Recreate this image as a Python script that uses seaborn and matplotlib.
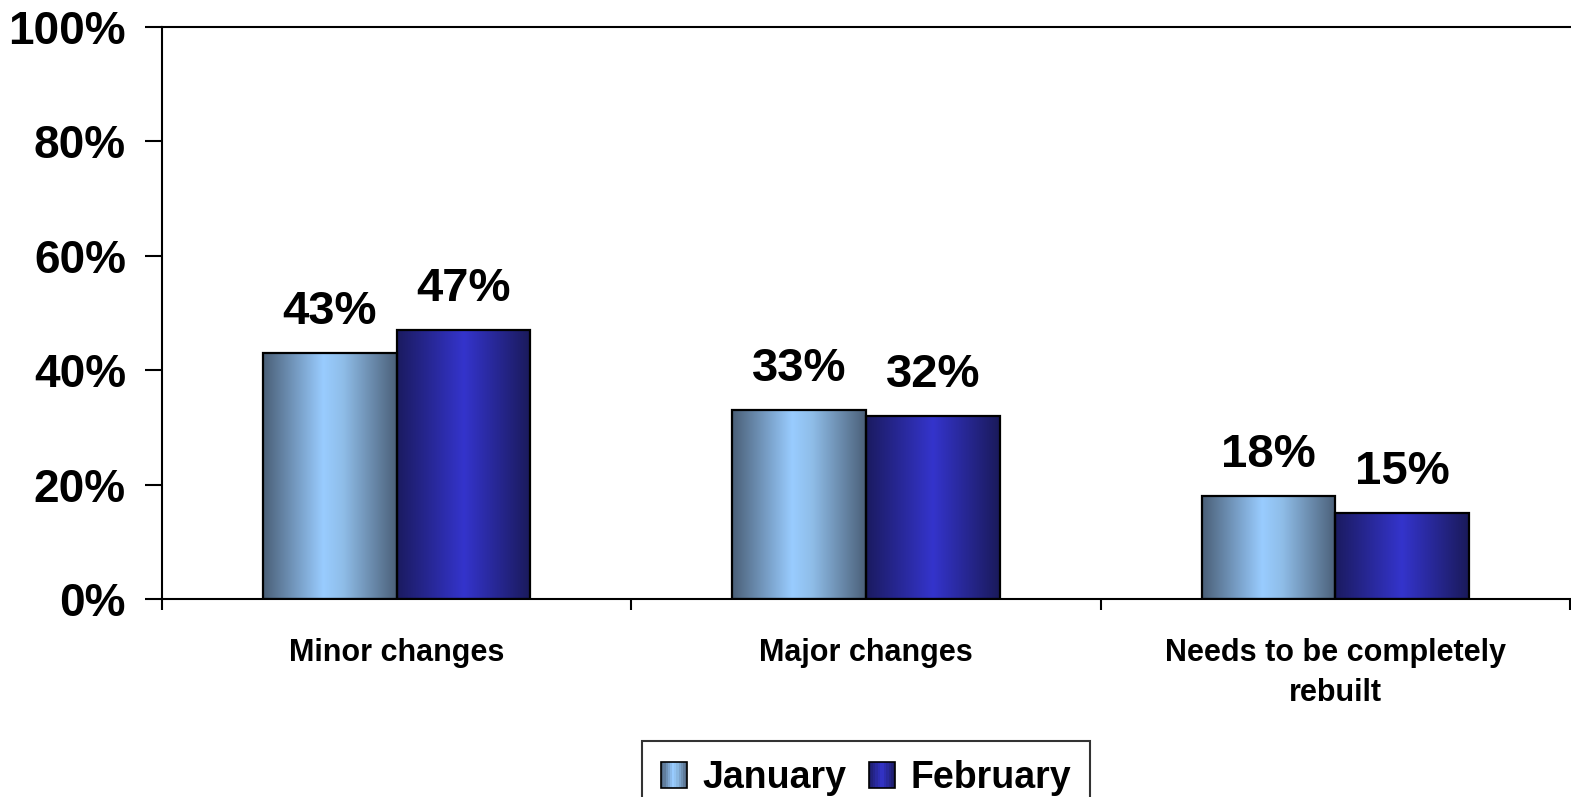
import matplotlib
matplotlib.use("Agg")
import matplotlib.pyplot as plt
import seaborn as sns
import numpy as np
import pandas as pd
from matplotlib.patches import Rectangle
from matplotlib.legend_handler import HandlerBase
from matplotlib.colors import LinearSegmentedColormap

categories = ["Minor changes", "Major changes", "Needs to be completely\nrebuilt"]
january = [43, 33, 18]
february = [47, 32, 15]
series = ["January", "February"]

df = pd.DataFrame({
    "category": categories * 2,
    "value": january + february,
    "month": ["January"] * 3 + ["February"] * 3,
})

# horizontal gradient stops for each series (Excel-style shaded bars)
stops = {
    "January": [(0.0, "#4a5f77"), (0.45, "#99ccff"), (0.6, "#8fbde8"), (1.0, "#4b6079")],
    "February": [(0.0, "#1b1b60"), (0.5, "#3434cc"), (1.0, "#1a1a5a")],
}
cmaps = {k: LinearSegmentedColormap.from_list(k, v) for k, v in stops.items()}
base = {"January": "#99ccff", "February": "#3333cc"}

sns.set_theme(style="white")
plt.rcParams["font.family"] = ["Liberation Sans", "DejaVu Sans"]
plt.rcParams["font.weight"] = "bold"
plt.rcParams["text.color"] = "black"
plt.rcParams["xtick.color"] = "black"
plt.rcParams["ytick.color"] = "black"

fig = plt.figure(figsize=(15.71, 7.97), dpi=100)
ax = fig.add_axes([162 / 1571, 1 - 599 / 797, 1408 / 1571, 572 / 797])

sns.barplot(data=df, x="category", y="value", hue="month", hue_order=series,
            palette=base, width=0.57, gap=0, saturation=1, legend=False, ax=ax)

ax.set_ylim(0, 100)
ax.set_xlim(-0.5, 2.5)

# paint gradients inside each bar
grad = np.linspace(0, 1, 256).reshape(1, -1)
for container, name in zip(ax.containers, series):
    for bar in container:
        x0, y0 = bar.get_x(), bar.get_y()
        w, h = bar.get_width(), bar.get_height()
        im = ax.imshow(grad, cmap=cmaps[name], aspect="auto",
                       extent=(x0, x0 + w, y0, y0 + h), zorder=2, origin="lower")
        im.set_clip_path(bar)
        bar.set_facecolor("none")
        bar.set_edgecolor("black")
        bar.set_linewidth(1.6)
        bar.set_zorder(3)
    ax.bar_label(container, labels=[f"{v:.0f}%" for v in container.datavalues],
                 padding=14, fontsize=34, fontweight="bold", color="black")

ax.set_ylim(0, 100)
ax.set_xlim(-0.5, 2.5)

# y axis
ax.set_yticks([0, 20, 40, 60, 80, 100])
ax.set_yticklabels([f"{t}%" for t in [0, 20, 40, 60, 80, 100]], fontsize=33, fontweight="bold")
ax.tick_params(axis="y", direction="out", length=12, width=1.5, pad=14, left=True)

# x axis: ticks between categories, labels at centres
ax.set_xticks([-0.5, 0.5, 1.5, 2.5])
ax.set_xticklabels([])
ax.set_xticks([0, 1, 2], minor=True)
ax.set_xticklabels(categories, minor=True, fontsize=22, fontweight="bold", linespacing=1.45)
ax.tick_params(axis="x", which="major", direction="out", length=8, width=1.5, bottom=True)
ax.tick_params(axis="x", which="minor", length=0, pad=28)
ax.set_xlabel("")
ax.set_ylabel("")

for side in ["left", "bottom", "top"]:
    ax.spines[side].set_visible(True)
    ax.spines[side].set_color("black")
    ax.spines[side].set_linewidth(1.5)
ax.spines["right"].set_visible(False)
ax.grid(False)


class GradientHandler(HandlerBase):
    def __init__(self, cmap):
        super().__init__()
        self.cmap = cmap

    def create_artists(self, legend, orig_handle, xdescent, ydescent, width, height, fontsize, trans):
        size = min(width, height)
        x0 = -xdescent + (width - size) / 2
        y0 = -ydescent + (height - size) / 2
        n = 12
        arts = []
        for i in range(n):
            r = Rectangle((x0 + i * size / n, y0), size / n, size,
                          facecolor=self.cmap((i + 0.5) / n), edgecolor="none", transform=trans)
            arts.append(r)
        arts.append(Rectangle((x0, y0), size, size, facecolor="none",
                              edgecolor="black", linewidth=1.2, transform=trans))
        return arts


handles = [Rectangle((0, 0), 1, 1) for _ in series]
leg = fig.legend(handles, series, loc="upper center", bbox_to_anchor=(866 / 1571, 1 - 741 / 797),
                 ncol=2, frameon=True, fancybox=False, edgecolor="black",
                 prop={"weight": "bold", "size": 27}, handlelength=0.7, handleheight=0.7,
                 handletextpad=0.4, columnspacing=0.6, borderpad=0.5, borderaxespad=0,
                 handler_map={h: GradientHandler(cmaps[s]) for h, s in zip(handles, series)})
leg.get_frame().set_linewidth(1.5)

fig.savefig("out.png", dpi=100)
